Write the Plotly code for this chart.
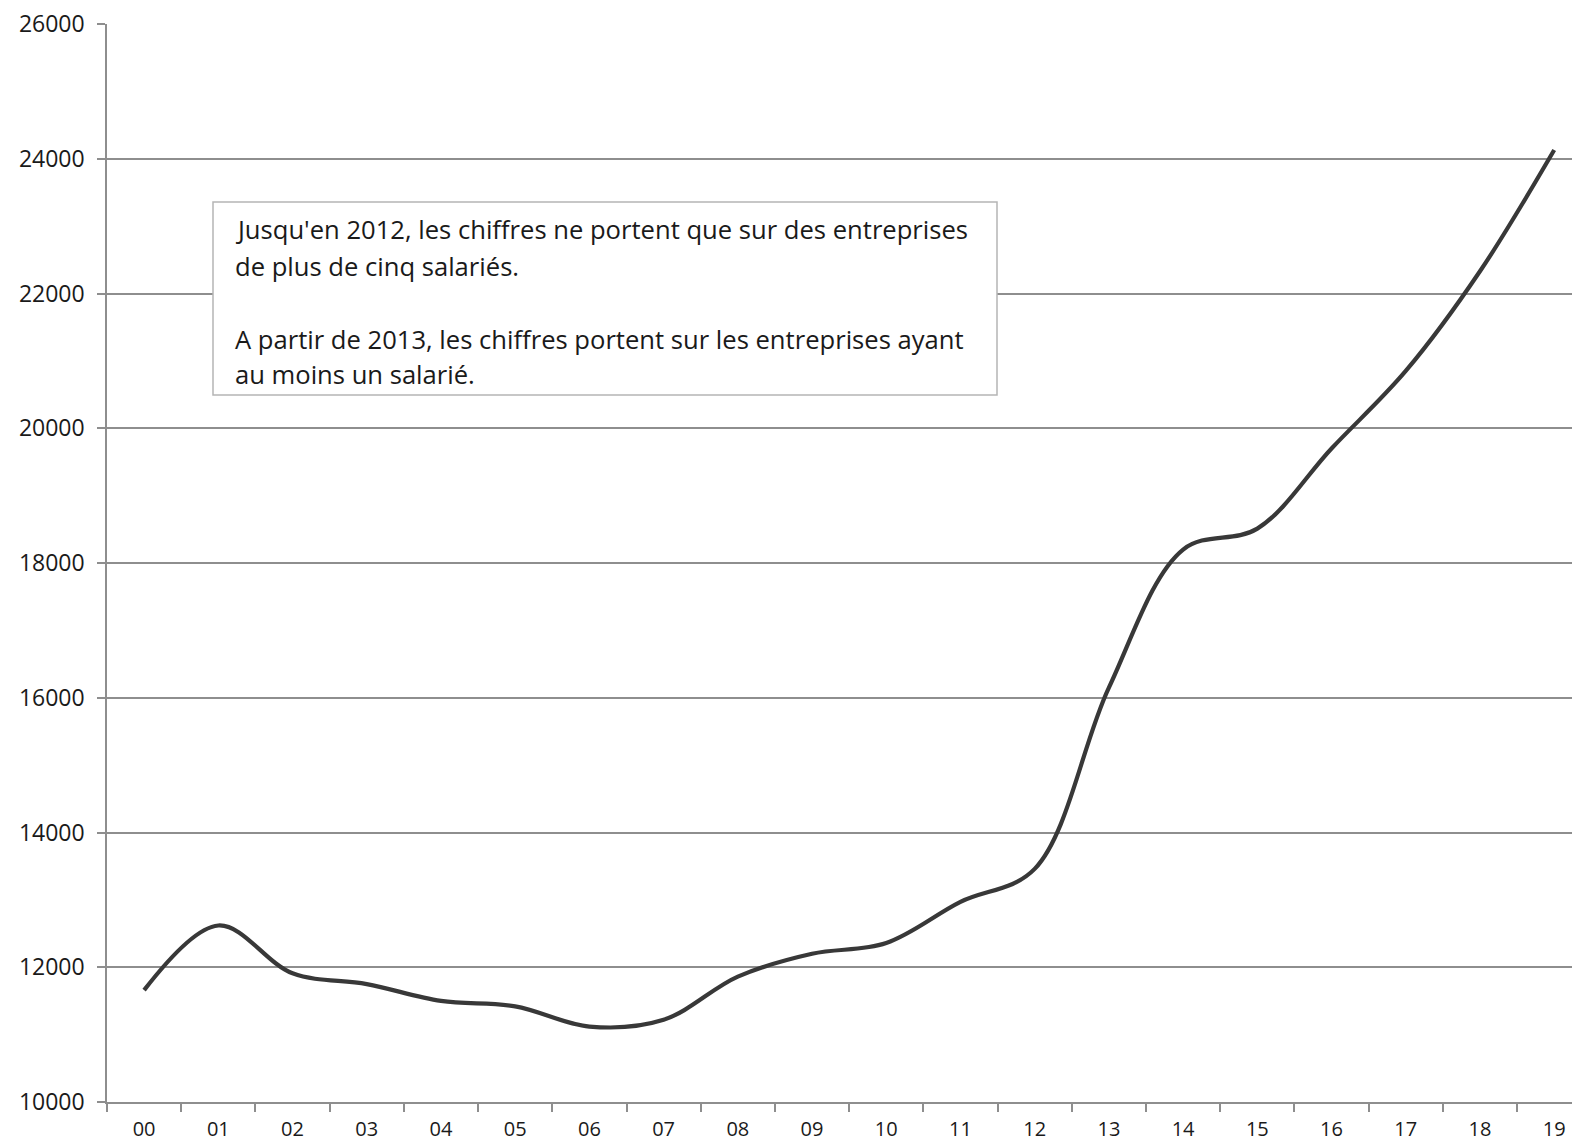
import plotly.graph_objects as go

# ---- data ----
years = ["00", "01", "02", "03", "04", "05", "06", "07", "08", "09",
         "10", "11", "12", "13", "14", "15", "16", "17", "18", "19"]
values = [11660, 12620, 11910, 11750, 11500, 11420, 11120, 11220, 11860, 12200,
          12360, 12970, 13460, 16150, 18200, 18510, 19700, 20850, 22330, 24130]
y_ticks = [10000, 12000, 14000, 16000, 18000, 20000, 22000, 24000, 26000]
note_lines = [
    "Jusqu'en 2012, les chiffres ne portent que sur des entreprises",
    "de plus de cinq salariés.",
    "A partir de 2013, les chiffres portent sur les entreprises ayant",
    "au moins un salarié.",
]

# ---- layout geometry (pixels) ----
W, H = 1572, 1144
L, T, B, R = 107, 24, 1102, 1572
PW, PH = R - L, B - T


def px(xp):
    return (xp - L) / PW


def py(yp):
    return (B - yp) / PH


FONT = "Open Sans"
GRID = "#8e8e8e"

fig = go.Figure(
    go.Scatter(
        x=years, y=values, mode="lines",
        line=dict(color="#383838", width=4.2, shape="spline", smoothing=1.0),
        hoverinfo="skip",
    )
)

fig.update_layout(
    width=W, height=H,
    margin=dict(l=L, r=W - R, t=T, b=H - B, pad=0, autoexpand=False),
    paper_bgcolor="white", plot_bgcolor="white",
    showlegend=False,
    font=dict(family=FONT, size=22, color="#1a1a1a"),
)

fig.update_xaxes(
    type="category", range=[-0.5, 19.24], automargin=False,
    showgrid=False, showline=True, linecolor=GRID, linewidth=1.5,
    ticks="outside", tickson="boundaries", ticklen=8, tickcolor=GRID, tickwidth=1.5,
    ticklabelstandoff=8,
    tickfont=dict(family=FONT, size=20, color="#1a1a1a"),
)
fig.update_yaxes(
    range=[10000, 26000], tickvals=y_ticks, ticktext=[str(v) for v in y_ticks],
    automargin=False,
    showgrid=True, gridcolor=GRID, gridwidth=1.5,
    showline=True, linecolor=GRID, linewidth=1.5,
    ticks="outside", ticklen=8, tickcolor=GRID, tickwidth=1.5,
    ticklabelstandoff=8, zeroline=False,
    tickfont=dict(family=FONT, size=23, color="#1a1a1a"),
)

# note box
fig.add_shape(
    type="rect", xref="paper", yref="paper", layer="above",
    x0=px(213), x1=px(997), y0=py(395), y1=py(202),
    line=dict(color="#b5b5b5", width=1.5), fillcolor="white",
)
line_centers = [229, 266, 339, 374]
for txt, yc in zip(note_lines, line_centers):
    fig.add_annotation(
        xref="paper", yref="paper", x=px(233), y=py(yc),
        xanchor="left", yanchor="middle", showarrow=False,
        text=txt, font=dict(family=FONT, size=25.6, color="#1a1a1a"),
    )

fig.write_html(
    "out.html",
    config={"displayModeBar": False},
    post_script="document.body.style.margin='0';",
)
